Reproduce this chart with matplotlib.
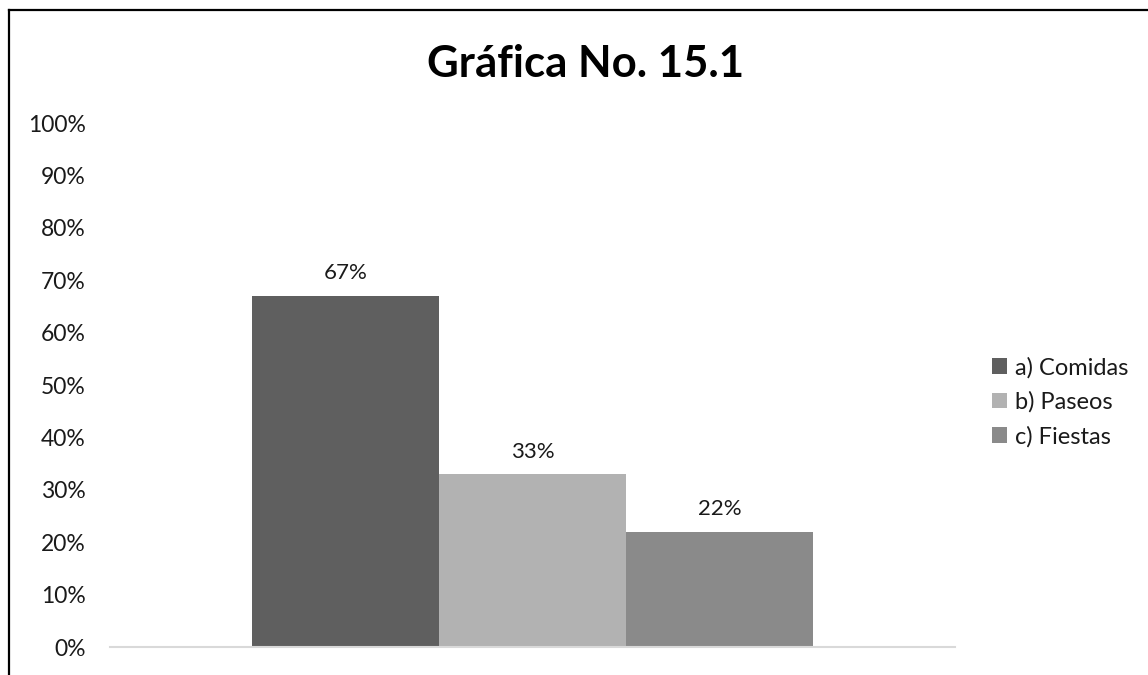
import matplotlib
matplotlib.use("Agg")
import matplotlib.pyplot as plt
from matplotlib.lines import Line2D
from matplotlib.patches import Patch
from matplotlib.ticker import FuncFormatter, MultipleLocator

plt.rcParams['font.family'] = ['Lato', 'DejaVu Sans']

title = "Gráfica No. 15.1"
series = ["a) Comidas", "b) Paseos", "c) Fiestas"]
values = [67, 33, 22]
colors = ["#5f5f5f", "#b2b2b2", "#8a8a8a"]

fig = plt.figure(figsize=(11.48, 6.75), dpi=100)
ax = fig.add_axes([110 / 1148, 28 / 675, 845 / 1148, 524 / 675])

width = 0.2213
offsets = [-width, 0.0, width]
for name, val, col, off in zip(series, values, colors, offsets):
    bars = ax.bar(off, val, width=width, color=col, label=name)
    ax.bar_label(bars, labels=[f"{val}%"], padding=9, fontsize=16, color="#1a1a1a")

ax.set_xlim(-0.5, 0.5)
ax.set_ylim(0, 100)
ax.yaxis.set_major_locator(MultipleLocator(10))
ax.yaxis.set_major_formatter(FuncFormatter(lambda v, p: f"{v:.0f}%"))
ax.tick_params(axis="y", length=0, labelsize=16.5, labelcolor="#1a1a1a", pad=17.5)
ax.set_xticks([])
for side in ("top", "right", "left"):
    ax.spines[side].set_visible(False)
ax.spines["bottom"].set_color("#d9d9d9")
ax.spines["bottom"].set_linewidth(1.5)

fig.text(586 / 1148, 1 - 77 / 675, title, ha="center", va="baseline",
         fontsize=31.5, fontweight="bold", color="#000000")

handles = [Patch(facecolor=c, edgecolor="none") for c in colors]
fig.legend(handles, series, loc="center left", bbox_to_anchor=(971 / 1148, 1 - 402 / 675),
           frameon=False, fontsize=17, handlelength=0.62, handleheight=0.62,
           handletextpad=0.35, labelspacing=0.55, labelcolor="#1a1a1a")

# outer frame: left and top edges
fig.add_artist(Line2D([9 / 1148, 9 / 1148], [0, 1 - 10 / 675], transform=fig.transFigure,
                      color="black", linewidth=1.6))
fig.add_artist(Line2D([9 / 1148, 1], [1 - 10 / 675, 1 - 10 / 675], transform=fig.transFigure,
                      color="black", linewidth=1.6))

fig.savefig("out.png", dpi=100, facecolor="white")
